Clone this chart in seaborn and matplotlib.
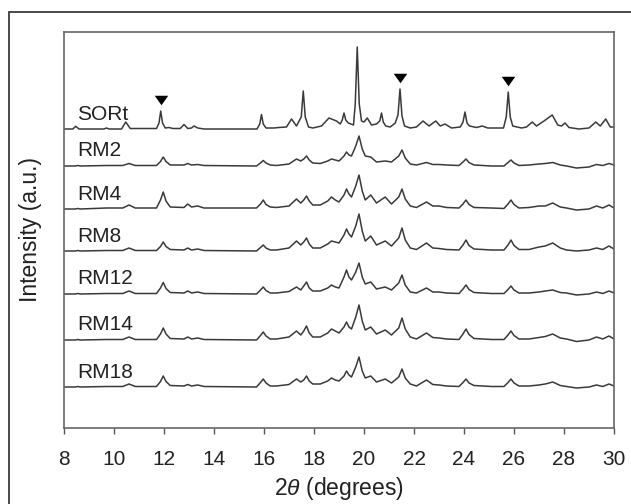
import numpy as np
import pandas as pd
import matplotlib
matplotlib.use("Agg")
import matplotlib.pyplot as plt
from matplotlib.patches import Rectangle
import seaborn as sns

# ---------------- data ----------------
SAMPLES = ["SORt", "RM2", "RM4", "RM8", "RM12", "RM14", "RM18"]
TICKS = [8, 10, 12, 14, 16, 18, 20, 22, 24, 26, 28, 30]

SORT_X = [8.0, 8.35, 8.47, 8.6, 9.6, 9.7, 9.8, 10.3, 10.47, 10.65, 11.7, 11.8, 11.87, 11.94,
          12.05, 12.2, 12.35, 12.65, 12.8, 12.95, 13.1, 13.2, 13.35, 13.6, 15.72, 15.83, 15.9,
          15.97, 16.08, 16.4, 16.6, 16.9, 17.1, 17.3, 17.49, 17.57, 17.65, 17.78, 17.95, 18.3,
          18.6, 18.9, 19.05, 19.13, 19.2, 19.27, 19.37, 19.58, 19.65, 19.73, 19.81, 19.9, 20.0,
          20.13, 20.3, 20.5, 20.63, 20.7, 20.77, 20.87, 21.05, 21.25, 21.36, 21.44, 21.52, 21.62,
          21.85, 22.1, 22.36, 22.6, 22.87, 23.05, 23.24, 23.5, 23.85, 23.96, 24.04, 24.12, 24.22,
          24.5, 24.73, 24.95, 25.58, 25.69, 25.77, 25.85, 25.95, 26.3, 26.5, 26.73, 26.9, 27.2,
          27.53, 27.75, 27.9, 28.04, 28.2, 28.6, 29.0, 29.27, 29.45, 29.67, 29.85, 30.0]
SORT_Y = [0, 0, 2.7, 0, 0, 1, 0, 0, 7, 0.5, 0.5, 6, 18, 6,
          1, 1.5, 0.5, 0.5, 4.5, 0.5, 1, 3, 1, 0, 0, 5, 14.5,
          5, 1, 1, 1.5, 2, 10, 3, 12, 38, 12, 2, 1, 3,
          11, 8, 5, 9, 16, 9, 6, 4, 25, 82, 25, 8, 7,
          11, 4, 5, 8, 16, 7, 3, 2, 6, 14, 40, 13, 3,
          1, 2, 8, 3, 8, 3, 5, 1, 2, 7, 17, 6, 3,
          1.5, 3, 1, 1, 12, 37, 12, 3, 1, 2, 7, 3, 8,
          14, 4, 3, 6, 1.5, 0, 1, 7, 3, 10, 2, 2]

RM_X = [8.0, 8.45, 8.55, 8.65, 9.7, 10.35, 10.6, 10.85, 11.7, 11.86, 11.97, 12.08, 12.25, 12.8,
        12.95, 13.1, 13.35, 13.6, 15.7, 15.86, 15.97, 16.08, 16.25, 16.5, 17.0, 17.3, 17.47,
        17.59, 17.7, 17.81, 17.95, 18.25, 18.55, 18.7, 18.85, 19.0, 19.2, 19.3, 19.4, 19.5, 19.67,
        19.8, 19.93, 20.05, 20.27, 20.5, 20.85, 21.1, 21.39, 21.52, 21.65, 21.85, 22.1, 22.5,
        22.75, 23.0, 23.3, 23.8, 23.96, 24.08, 24.2, 24.4, 25.1, 25.6, 25.76, 25.88, 26.0,
        26.2, 26.6, 27.0, 27.25, 27.55, 27.85, 28.1, 28.5, 29.0, 29.3, 29.55, 29.8, 30.0]
RM2_Y = [0, 0, 0.5, 0, 0.5, 0.5, 2.5, 0.5, 0.5, 4.5, 9, 4.5, 1, 1,
         2.5, 1, 1.5, 0.5, 0, 3, 5.5, 3, 1, 0.5, 2, 7, 5,
         7, 10, 6, 3, 2.5, 5, 7, 6, 5, 10, 14, 11, 10, 20,
         30, 17, 10, 9, 4, 5, 4, 10, 16, 8, 2, 1, 3.5,
         1.5, 1.5, 1, 0.5, 4, 7, 3.5, 1, 0, 0, 3.5, 6, 3,
         0.5, 1, 2, 2.5, 3.5, 1, 0, -2, -1, 1.5, 0.5, 2.5, 1]
RM4_Y = [0, 0, 0.5, 0, 1, 1, 4, 1, 1, 9, 17, 8, 2, 1.5,
         5, 2, 3, 1, 1, 5, 9, 4.5, 2, 1.5, 3, 10, 6,
         9, 13, 8, 4, 4, 8, 12, 9, 7, 14, 20, 15, 12, 23,
         34, 18, 9, 14, 6, 12, 5, 12, 20, 10, 3, 1.5, 7,
         3, 3, 1.5, 1, 5, 9, 4.5, 1.5, 1, 0.5, 5, 9, 4.5,
         1, 1.5, 3, 3, 6, 2, 1, -1, 0, 3, 1, 4, 1]
RM8_Y = [0, 0, 0.5, 0, 0.5, 0.5, 3, 0.5, 0.5, 4.5, 9, 4.5, 1.5, 1,
         3, 1, 2, 0.5, 0, 3.5, 6, 3, 1, 1, 3, 10, 6,
         9, 13, 7, 3, 3, 7, 10, 9, 8, 16, 22, 17, 14, 25,
         37, 20, 10, 15, 6, 10, 5, 13, 23, 11, 3, 1.5, 8,
         3, 2.5, 1.5, 1, 6, 11, 5.5, 2, 1, 1, 6, 11, 5.5,
         1.5, 1.5, 4, 5, 8, 3, 1, 0, 1, 3, 1.5, 5, 2]
RM12_Y = [0, 0, 0.5, 0, 0.5, 0.5, 3, 0.5, 0.5, 6, 11.5, 5.5, 1.5, 1,
          3, 1, 2, 0.5, 0, 4, 7, 3.5, 1, 1, 2.5, 7, 4,
          8, 12, 6, 3, 3, 6, 9, 7, 6, 17, 24, 17, 14, 22,
          31, 17, 10, 12, 5, 7, 4, 11, 19, 9, 2, 1, 6,
          2, 2, 1, 0.5, 5, 9, 4.5, 1.5, 0.5, 0.5, 4.5, 8, 4,
          1, 1, 2, 3, 4, 1.5, 1, -1, 0, 2, 0.5, 3, 1]
RM14_Y = [0, 0, 0.5, 0, 0.5, 0.5, 3, 0.5, 0.5, 6, 12, 6, 1.5, 1,
          3, 1, 2, 0.5, 0, 4.5, 8, 4, 1, 1, 3, 9, 5,
          9, 14, 7, 3, 3, 7, 11, 9, 7, 13, 18, 13, 11, 23,
          35, 19, 10, 13, 6, 10, 5, 12, 22, 11, 3, 1, 7,
          2.5, 2, 1, 0.5, 6, 11, 5.5, 1.5, 0.5, 0.5, 5, 9, 4.5,
          1, 1, 2.5, 3.5, 6, 2, 1, -1.5, 0, 3, 1, 4, 1]
RM18_Y = [0, 0, 0.5, 0, 0.5, 0.5, 3, 0.5, 0.5, 5.5, 11, 5.5, 1.5, 1,
          2.5, 1, 2, 0.5, 0, 4.5, 8, 4, 1, 1, 2.5, 8, 5,
          7, 11, 6, 3, 3, 6, 9, 7, 6, 11, 16, 12, 10, 20,
          30, 16, 9, 11, 5, 8, 4, 10, 18, 9, 3, 1, 7,
          2.5, 2, 1, 0.5, 4.5, 8, 4, 1.5, 0.5, 0.5, 4.5, 8, 4,
          1, 1, 2, 3, 5, 1.5, 0.5, -1, 0, 2, 0.5, 3, 1]

# vertical offsets of the stacked patterns (axis units)
OFFSETS = [299, 262, 219, 177, 134, 88, 41]
MARK_X = [11.87, 21.44, 25.77]   # SORt reflections marked with triangles

# ---------------- figure ----------------
sns.set_theme(style="white")
plt.rcParams["font.family"] = ["Liberation Sans", "DejaVu Sans"]
plt.rcParams["mathtext.fontset"] = "custom"
plt.rcParams["mathtext.rm"] = "Liberation Sans"
plt.rcParams["mathtext.it"] = "Liberation Sans:italic"

W, H = 631, 504
fig = plt.figure(figsize=(W / 100, H / 100), dpi=100)
fig.patch.set_facecolor("white")
ax = fig.add_axes([64 / W, (H - 428) / H, (614 - 64) / W, (428 - 32) / H])

# outer frame (extends past right/bottom edges)
fig.patches.append(Rectangle((9 / W, -0.1), 1.2, 1.1 - 12 / H, transform=fig.transFigure,
                             fill=False, edgecolor="#3a3a3a", linewidth=1.3, zorder=0))

traces_x = [SORT_X] + [RM_X] * 6
traces_y = [SORT_Y, RM2_Y, RM4_Y, RM8_Y, RM12_Y, RM14_Y, RM18_Y]
line_col = "#3a3a3a"
for name, xs, ys, off in zip(SAMPLES, traces_x, traces_y, OFFSETS):
    df = pd.DataFrame({"x": xs, "y": np.asarray(ys, float) + off})
    sns.lineplot(data=df, x="x", y="y", ax=ax, color=line_col, linewidth=1.1,
                 sort=False, estimator=None)
    ax.text(8.54, off + 15, name, fontsize=15, color="#222222", va="center", ha="left")

mark_y = np.interp(MARK_X, SORT_X, SORT_Y) + OFFSETS[0] + 11
tri = [(-1, 0.7), (1, 0.7), (0, -0.7)]
sns.scatterplot(x=MARK_X, y=mark_y, ax=ax, marker=tri, s=95, color="black",
                edgecolor="black", linewidth=0, zorder=5)

ax.set_xlim(8, 30)
ax.set_ylim(0, 396)
ax.set_xticks(TICKS)
ax.set_xticklabels([str(t) for t in TICKS])
ax.set_yticks([])
ax.tick_params(axis="x", direction="out", length=4.5, width=1.0, color="#555555",
               labelsize=15, pad=11, labelcolor="#222222", bottom=True)
for sp in ax.spines.values():
    sp.set_color("#666666")
    sp.set_linewidth(1.2)
    sp.set_visible(True)

ax.set_xlabel(r"2$\it{\theta}$ (degrees)", fontsize=16.5, color="#222222", labelpad=5)
ax.set_ylabel("Intensity (a.u.)", fontsize=16.5, color="#222222", labelpad=16)

fig.savefig("out.png", dpi=100, facecolor="white")
